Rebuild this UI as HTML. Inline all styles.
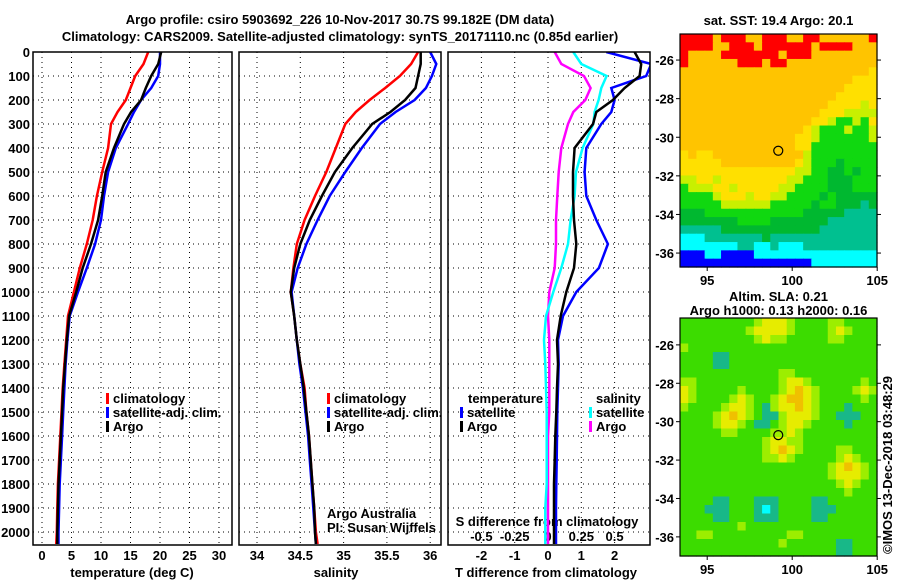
<!DOCTYPE html>
<html><head><meta charset="utf-8">
<style>
html,body{margin:0;padding:0;background:#fff;}
svg text{font-family:"Liberation Sans",sans-serif;font-weight:bold;font-size:13px;fill:#000;}
</style></head>
<body>
<svg id="c" width="900" height="580" viewBox="0 0 900 580" xmlns="http://www.w3.org/2000/svg"></svg>
<script>
// ---- data ----
const depths=[0,50,100,150,200,250,300,400,500,600,700,800,900,1000,1100,1200,1300,1400,1500,1600,1700,1800,1900,2000,2050];
const tempClim=[18.0,17.2,15.8,15.0,14.2,12.8,11.7,11.2,10.2,9.3,8.6,7.6,6.4,5.4,4.4,4.1,3.8,3.5,3.3,3.1,2.9,2.7,2.6,2.5,2.4];
const tempArgo=[20.2,19.7,18.5,17.6,16.8,15.1,13.9,12.2,10.8,10.2,9.5,8.3,6.9,5.8,4.6,4.2,3.9,3.6,3.4,3.2,3.0,2.8,2.7,2.6,2.6];
const tempSat=[20.0,20.0,19.7,18.5,16.8,15.6,14.6,12.5,11.2,10.5,10.0,9.0,7.6,6.1,4.7,4.3,4.0,3.8,3.6,3.4,3.2,3.0,2.9,2.8,2.8];
const salClim=[35.86,35.78,35.65,35.48,35.30,35.14,35.02,34.91,34.80,34.67,34.55,34.46,34.42,34.39,34.43,34.46,34.50,34.55,34.57,34.60,34.62,34.64,34.66,34.68,34.70];
const salArgo=[35.89,35.89,35.86,35.83,35.71,35.54,35.33,35.10,34.90,34.75,34.61,34.50,34.43,34.39,34.43,34.46,34.50,34.54,34.57,34.60,34.62,34.64,34.66,34.67,34.68];
const salSat=[36.00,36.07,36.02,35.95,35.82,35.60,35.42,35.21,35.02,34.84,34.70,34.57,34.47,34.40,34.43,34.46,34.49,34.53,34.56,34.59,34.61,34.63,34.65,34.67,34.68];
const tDiffArgo=[2.6,2.8,2.75,2.3,1.95,1.45,1.35,0.8,0.75,0.75,0.78,0.85,0.78,0.55,0.38,0.27,0.3,0.27,0.25,0.22,0.2,0.18,0.18,0.18,0.18];
const tDiffSat=[1.75,3.1,2.95,1.9,2.0,1.9,1.6,1.15,1.1,1.15,1.45,1.8,1.53,0.85,0.45,0.3,0.32,0.3,0.28,0.27,0.26,0.25,0.24,0.24,0.24];
const sDiffSat=[0.19,0.25,0.44,0.40,0.38,0.35,0.34,0.26,0.21,0.20,0.17,0.15,0.10,0.04,-0.015,-0.03,-0.02,-0.015,-0.01,-0.01,-0.01,-0.01,-0.02,-0.02,-0.02];
const sDiffArgo=[0.05,0.10,0.27,0.32,0.28,0.19,0.15,0.10,0.08,0.07,0.06,0.06,0.05,0.01,0.0,0.01,0.01,0.01,0.01,0.0,0.0,0.0,0.0,0.0,0.0];
const depthTicks=[0,100,200,300,400,500,600,700,800,900,1000,1100,1200,1300,1400,1500,1600,1700,1800,1900,2000];
const tempTicks=[0,5,10,15,20,25,30];
const salTicks=[34,34.5,35,35.5,36];
const tDiffTicks=[-2,-1,0,1,2];
const sDiffTicks=[-0.5,-0.25,0,0.25,0.5];
const sdiffLabels=["-0.5","-0.25","0","0.25","0.5"];
const lonTicks=[95,100,105];
const latTicks=[-26,-28,-30,-32,-34,-36];
const argoLon=99.18, argoLat=-30.7;
const sstColors={R:"#ff0000",O:"#ffc400",Y:"#ffe000",L:"#c8f000",G:"#10d810",D:"#00b830",T:"#00c090",C:"#00ffff",B:"#0000ff"};
const sstGrid=[
"RRRRORRROORRROORROOOOOOR","RRRROORRRORRRRRRORRRROOO","ROOOORRRRRRRORRROOOOOOOO","ROOOOOORRRORROOOOOOOOOOO",
"OOOOOOOOOOOOOOOOOOOOOOOY","OOOOOOOOOOOOOOOOOOOOOYYY","OOOOOOOOOOOOOOOOOOOOYYYY","OOOOOOOOOOOOOOOOOOOYYYYY",
"OOOOOOOOOOOOOOOOOOYYYYLY","OOOOOOOOOOOOOOOOOYYYLLLL","OOOOOOOOOOOOOOOOYYLGGLGY","OOOOOOOOOOOOOOOYLGGGLGGL",
"OOOOOOOOOOOOOOYYLGGGGGGL","OOOOOOOOOOOOOOYYGGGGGGGG","YOYYOOOOOOOOOOOLGGGGGGGG","YYYYYOOOOOOOOOYLGGGDGGGG",
"YYYYYYYYYYYYYYLLGGDDGDGG","LLYYLYYYYYYYYLLGGGDDDGGG","GLLLYYLYYYYYLLGGGGDDDGGG","GGGGLYYYLYYLLGGGGDGDDDDD",
"GGGGGLLLLLLGGGGGDGGDDDTD","DDDGGGGGGGGGGGGDDDDDTTTT","DDDDDDDGGGGDDDDDDDTTTTTT","TTTTTDDDDDDDDDDDDTTTTTTT",
"CCCTTTTTTTDTTTTTTTTTTTTT","CCCCCCCTTCCTCCCTTTTTTTTT","BBBCCBBBBCCCCCCCCCCCCCCC","BBBBBBBBBBBBBBBBCCCCCCCC"];
const slaColors={G:"#3cdc00",L:"#9cee00",Y:"#e6ec00",O:"#f0c000",T:"#18b888",C:"#00ffff"};
const slaGrid=[
"GGGGGGGGGLYYYLGGGGLLGGGG","GGGGGGGGLYYYYLGGGGLYLGGG","GGGGGGGGGLYLLGGGGGLLGGGG","LGGGGGGGGGGGGGGGGGGGGGGG",
"GGGGTTGGGGGGGGGGGGGGGGGG","GGGGTTGGGGGGGGGGGGGGGGGG","GGGGGGGGGGGGLLGGGGGGGGGG","LLGGGGGGGGGGLYYLGGGGGGLG",
"YLGGGGGLGGGGLYOYLGGGGLYL","YLGGGGLYLGGLYOOYLGGGGGLG","LGGGGLYYLGTLYYOYLGGGTGGG","GGGGLYOYLGTTLYYYLGGTTTGG",
"GGGGLYYLGTTGLYYLGGGGTGGG","GGGGGLLGGGGLLYLGGGGGGGGG","GGGGGGGGGGLYYLLGGGGGGGGG","GGGGGGGGGGLYOYLGGGGLLGGG",
"GGGGGGGGGGLLYLGGGGGLYLGG","GGGGGGGGGGGGGGGGGGLYOYLG","GGGGGGGGGGGGGGGGGGLYYYLG","GGGGGGGGGGGGGGGGGGGLYLGG",
"GGGGGGGGGGGGGGGGGGGGLGGG","GGGGTTGGGTTTGGGGTTGGGGGG","GGGTTTGGGTCTGGGGTTTGGGGG","GGGGTTGGGTTTGGGGTTGGGGGG",
"GGGGGGGLGGGGGGGGGGGGGGGG","GGLLGGGGGGGGGLLGGGGGGGGG","GGGGGGGGGGGGLGGGGGGTTGGG","GGGGGGGGGGGGGGGGGGGTTGGG"];

// ---- helpers ----
const S=document.getElementById('c'),NS="http://www.w3.org/2000/svg";
function mk(t,a,p){const e=document.createElementNS(NS,t);for(const k in a)e.setAttribute(k,a[k]);(p||S).appendChild(e);return e;}
function txt(x,y,s,anchor,extra){const e=mk('text',Object.assign({x:x,y:y,'text-anchor':anchor||'start'},extra||{}));e.textContent=s;return e;}
const yD=d=>52+d*0.24;
const TOPY=52,BOTY=545;
function panel(name,L,R,xf,ticks,labels){
  const g=mk('g',{});
  
  
  depthTicks.forEach(d=>{mk('line',{x1:L,x2:R,y1:yD(d),y2:yD(d),stroke:'#000','stroke-dasharray':'1,4','stroke-width':1},g);});
  ticks.forEach((t,i)=>{const x=xf(t);mk('line',{x1:x,x2:x,y1:TOPY,y2:BOTY,stroke:'#000','stroke-dasharray':'1,4','stroke-width':1},g);
    if(labels){const e=txt(x,560,labels[i],'middle');}});
  return g;
}
function frame(L,R){const r=mk('rect',{x:L,y:TOPY,width:R-L,height:BOTY-TOPY,fill:'none',stroke:'#000','stroke-width':1.5});
  }
function drawLine(vals,xf,col,name,parent){const pts=depths.map((d,i)=>xf(vals[i]).toFixed(1)+','+yD(d).toFixed(1)).join(' ');
  const p=mk('polyline',{points:pts,fill:'none',stroke:col,'stroke-width':2.5},parent);
  }
function legend(x,y,col,s){mk('rect',{x:x,y:y-10,width:3,height:11,fill:col});const e=txt(x+7,y,s);}

// clip rects
const defs=mk('defs',{});
[[1,33,232],[2,239,441],[3,448,650]].forEach(([i,l,r])=>{const c=mk('clipPath',{id:'cp'+i},defs);mk('rect',{x:l,y:TOPY,width:r-l,height:BOTY-TOPY},c);});

// titles
let t=txt(340,24,'Argo profile: csiro 5903692_226 10-Nov-2017 30.7S 99.182E (DM data)','middle',{'font-size':'14.5'});

t=txt(340,41,'Climatology: CARS2009. Satellite-adjusted climatology: synTS_20171110.nc (0.85d earlier)','middle',{'font-size':'14.5'});


// depth labels
depthTicks.forEach(d=>{const e=txt(30,yD(d)+5,String(d),'end');});

// panel 1
const xT=v=>42+v*5.9;
panel('temperature-panel',33,232,xT,tempTicks,tempTicks.map(String));
const c1=mk('g',{'clip-path':'url(#cp1)'});
drawLine(tempClim,xT,'#ff0000','temp-climatology-line',c1);
drawLine(tempSat,xT,'#0000ff','temp-satellite-line',c1);
drawLine(tempArgo,xT,'#000000','temp-argo-line',c1);
frame(33,232);
legend(106,403,'#ff0000','climatology');legend(106,417,'#0000ff','satellite-adj. clim.');legend(106,431,'#000','Argo');
t=txt(132,577,'temperature (deg C)','middle');

// panel 2
const xS=v=>257+(v-34)*86.6;
panel('salinity-panel',239,441,xS,salTicks,["34","34.5","35","35.5","36"]);
const c2=mk('g',{'clip-path':'url(#cp2)'});
drawLine(salClim,xS,'#ff0000','sal-climatology-line',c2);
drawLine(salSat,xS,'#0000ff','sal-satellite-line',c2);
drawLine(salArgo,xS,'#000000','sal-argo-line',c2);
frame(239,441);
legend(327,403,'#ff0000','climatology');legend(327,417,'#0000ff','satellite-adj. clim.');legend(327,431,'#000','Argo');
t=txt(327,518,'Argo Australia','start',{'font-weight':'normal','font-size':'12'});
t=txt(327,532,'PI: Susan Wijffels','start',{'font-weight':'normal','font-size':'12'});
t=txt(336,577,'salinity','middle');

// panel 3
const xTd=v=>548+v*33.3, xSd=v=>548+v*133.2;
panel('difference-panel',448,650,xTd,tDiffTicks,tDiffTicks.map(String));
sDiffTicks.forEach((v,i)=>{const e=txt(xSd(v),541,sdiffLabels[i],'middle');});
t=txt(547,526,'S difference from climatology','middle');
const c3=mk('g',{'clip-path':'url(#cp3)'});
drawLine(sDiffArgo,xSd,'#ff00ff','sal-diff-argo-line',c3);
drawLine(sDiffSat,xSd,'#00ffff','sal-diff-satellite-line',c3);
drawLine(tDiffSat,xTd,'#0000ff','temp-diff-satellite-line',c3);
drawLine(tDiffArgo,xTd,'#000000','temp-diff-argo-line',c3);
frame(448,650);
t=txt(468,403,'temperature');
legend(460,417,'#0000ff','satellite');legend(460,431,'#000','Argo');
t=txt(596,403,'salinity');
legend(589,417,'#00ffff','satellite');legend(589,431,'#ff00ff','Argo');
t=txt(546,577,'T difference from climatology','middle');

// maps
function drawMap(name,grid,colors,L,T,W,H,latTop,latPerPx,titleLines){
  const cols=grid[0].length,rows=grid.length,cw=W/cols,ch=H/rows;
  const g=mk('g',{});
  
  grid.forEach((row,r)=>{for(let c=0;c<cols;c++){
    const cell=mk('rect',{x:(L+c*cw).toFixed(2),y:(T+r*ch).toFixed(2),width:(cw+0.6).toFixed(2),height:(ch+0.6).toFixed(2),fill:colors[row[c]]},g);
    }});
  const xL=lon=>L+(lon-93.4)*17.0, yL=lat=>T+(latTop-lat)*latPerPx;
  mk('rect',{x:L,y:T,width:W,height:H,fill:'none',stroke:'#000','stroke-width':1.2});
  latTicks.forEach(l=>{const y=yL(l);mk('line',{x1:L-4,x2:L,y1:y,y2:y,stroke:'#000'});mk('line',{x1:L+W,x2:L+W+4,y1:y,y2:y,stroke:'#000'});
    const e=txt(L-6,y+5,String(l),'end');});
  lonTicks.forEach(l=>{const x=xL(l);mk('line',{x1:x,x2:x,y1:T+H,y2:T+H+4,stroke:'#000'});
    const e=txt(x,T+H+18,String(l),'middle');});
  const m=mk('circle',{cx:xL(argoLon),cy:yL(argoLat),r:4.5,fill:'none',stroke:'#000','stroke-width':1.2});
  
  titleLines.forEach(([s,y])=>{const e=txt(L+W/2,y,s,'middle',{'font-size':'12'});});
}
drawMap('sst-map',sstGrid,sstColors,680,34,197,233,-24.65,19.3,[['sat. SST: 19.4 Argo: 20.1',25]]);
drawMap('sla-map',slaGrid,slaColors,680,318,197,238,-24.6,19.2,[['Altim. SLA: 0.21',301],['Argo h1000: 0.13 h2000: 0.16',315]]);
t=txt(0,0,'©IMOS 13-Dec-2018 03:48:29','middle',{'font-weight':'normal','font-size':'12',transform:'translate(892,465) rotate(-90)'});

</script>
</body></html>
